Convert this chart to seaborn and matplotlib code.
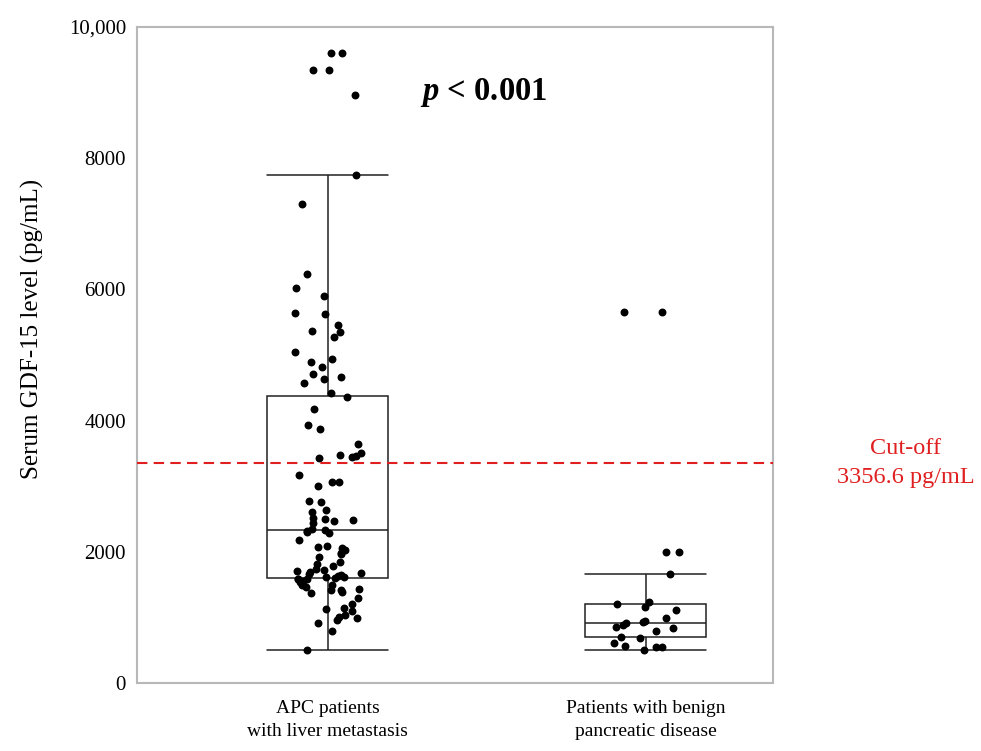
#!/usr/bin/env python3
"""Serum GDF-15 en APC con metástasis hepática vs. enfermedad pancreática benigna."""
import matplotlib
matplotlib.use("Agg")
import matplotlib.pyplot as plt
import numpy as np
import pandas as pd
import seaborn as sns

GROUPS = ["APC patients\nwith liver metastasis", "Patients with benign\npancreatic disease"]

# valores (pg/mL)
APC_VALUES = [
    9610, 9610, 9350, 9350, 8960, 7750, 7300, 6230, 6020, 5905,
    5640, 5620, 5460, 5370, 5345, 5275, 5045, 4945, 4890, 4815,
    4710, 4670, 4630, 4570, 4415, 4360, 4180, 3935, 3880, 3645,
    3500, 3480, 3455, 3440, 3430, 3170, 3065, 3060, 3005, 2780,
    2760, 2640, 2600, 2520, 2495, 2490, 2475, 2435, 2345, 2340,
    2320, 2300, 2280, 2180, 2095, 2080, 2065, 2030, 1975, 1960,
    1925, 1840, 1810, 1790, 1740, 1720, 1710, 1700, 1680, 1660,
    1650, 1630, 1620, 1610, 1600, 1590, 1585, 1580, 1560, 1545,
    1495, 1495, 1460, 1440, 1420, 1420, 1385, 1365, 1300, 1210,
    1150, 1130, 1100, 1035, 1005, 985, 960, 910, 790, 500,
]
BENIGN_VALUES = [
    5650, 5650, 2000, 1995, 1660, 1230, 1200, 1165, 1120, 985,
    945, 935, 910, 885, 860, 835, 800, 700, 680, 615,
    565, 555, 545, 505,
]

CUTOFF = 3356.6
Y_TICKS = [0, 2000, 4000, 6000, 8000, 10000]
Y_TICK_LABELS = ["0", "2000", "4000", "6000", "8000", "10,000"]

df = pd.DataFrame({
    "group": [GROUPS[0]] * len(APC_VALUES) + [GROUPS[1]] * len(BENIGN_VALUES),
    "value": APC_VALUES + BENIGN_VALUES,
})

sns.set_style("white")
plt.rcParams["font.family"] = ["Liberation Serif", "DejaVu Serif"]
plt.rcParams["mathtext.fontset"] = "custom"
plt.rcParams["mathtext.bfit"] = "Liberation Serif:italic:bold"
plt.rcParams["mathtext.rm"] = "Liberation Serif"
for key in ["text.color", "axes.labelcolor", "xtick.color", "ytick.color"]:
    plt.rcParams[key] = "black"

fig = plt.figure(figsize=(9.81, 7.51), dpi=100)
ax = fig.add_axes([0.1397, 0.0905, 0.6483, 0.8735])

sns.boxplot(data=df, x="group", y="value", order=GROUPS, width=0.38,
            color="white", linecolor="#202020", linewidth=1.1,
            showfliers=False, capwidths=0.38, ax=ax)
np.random.seed(3)
sns.stripplot(data=df, x="group", y="value", order=GROUPS, color="black",
              size=5.7, jitter=0.11, ax=ax)

ax.axhline(CUTOFF, color="#e02020", linestyle=(0, (5, 3)), linewidth=1.5, zorder=5)

ax.set_xlim(-0.6, 1.4)
ax.set_ylim(0, 10000)
ax.set_yticks(Y_TICKS)
ax.set_yticklabels(Y_TICK_LABELS)
ax.tick_params(axis="y", labelsize=15, length=0, pad=8)
ax.tick_params(axis="x", labelsize=14, length=0, pad=12)
for lab in ax.get_xticklabels():
    lab.set_linespacing(1.45)
ax.set_xlabel("")
ax.set_ylabel("Serum GDF-15 level (pg/mL)", fontsize=18)
ax.yaxis.set_label_coords(-0.146, 0.54)
for sp in ax.spines.values():
    sp.set_color("#b8b8b8")
    sp.set_linewidth(1.5)

ax.text(0.49, 9000, r"$\mathbfit{p}$ < 0.001", fontsize=23.5, fontweight="bold",
        ha="center", va="center")
fig.text(906 / 981, 1 - 463 / 751, "Cut-off\n3356.6 pg/mL", color="#e02020",
         fontsize=17.5, ha="center", va="center", linespacing=1.5)

fig.savefig("out.png", dpi=100)
